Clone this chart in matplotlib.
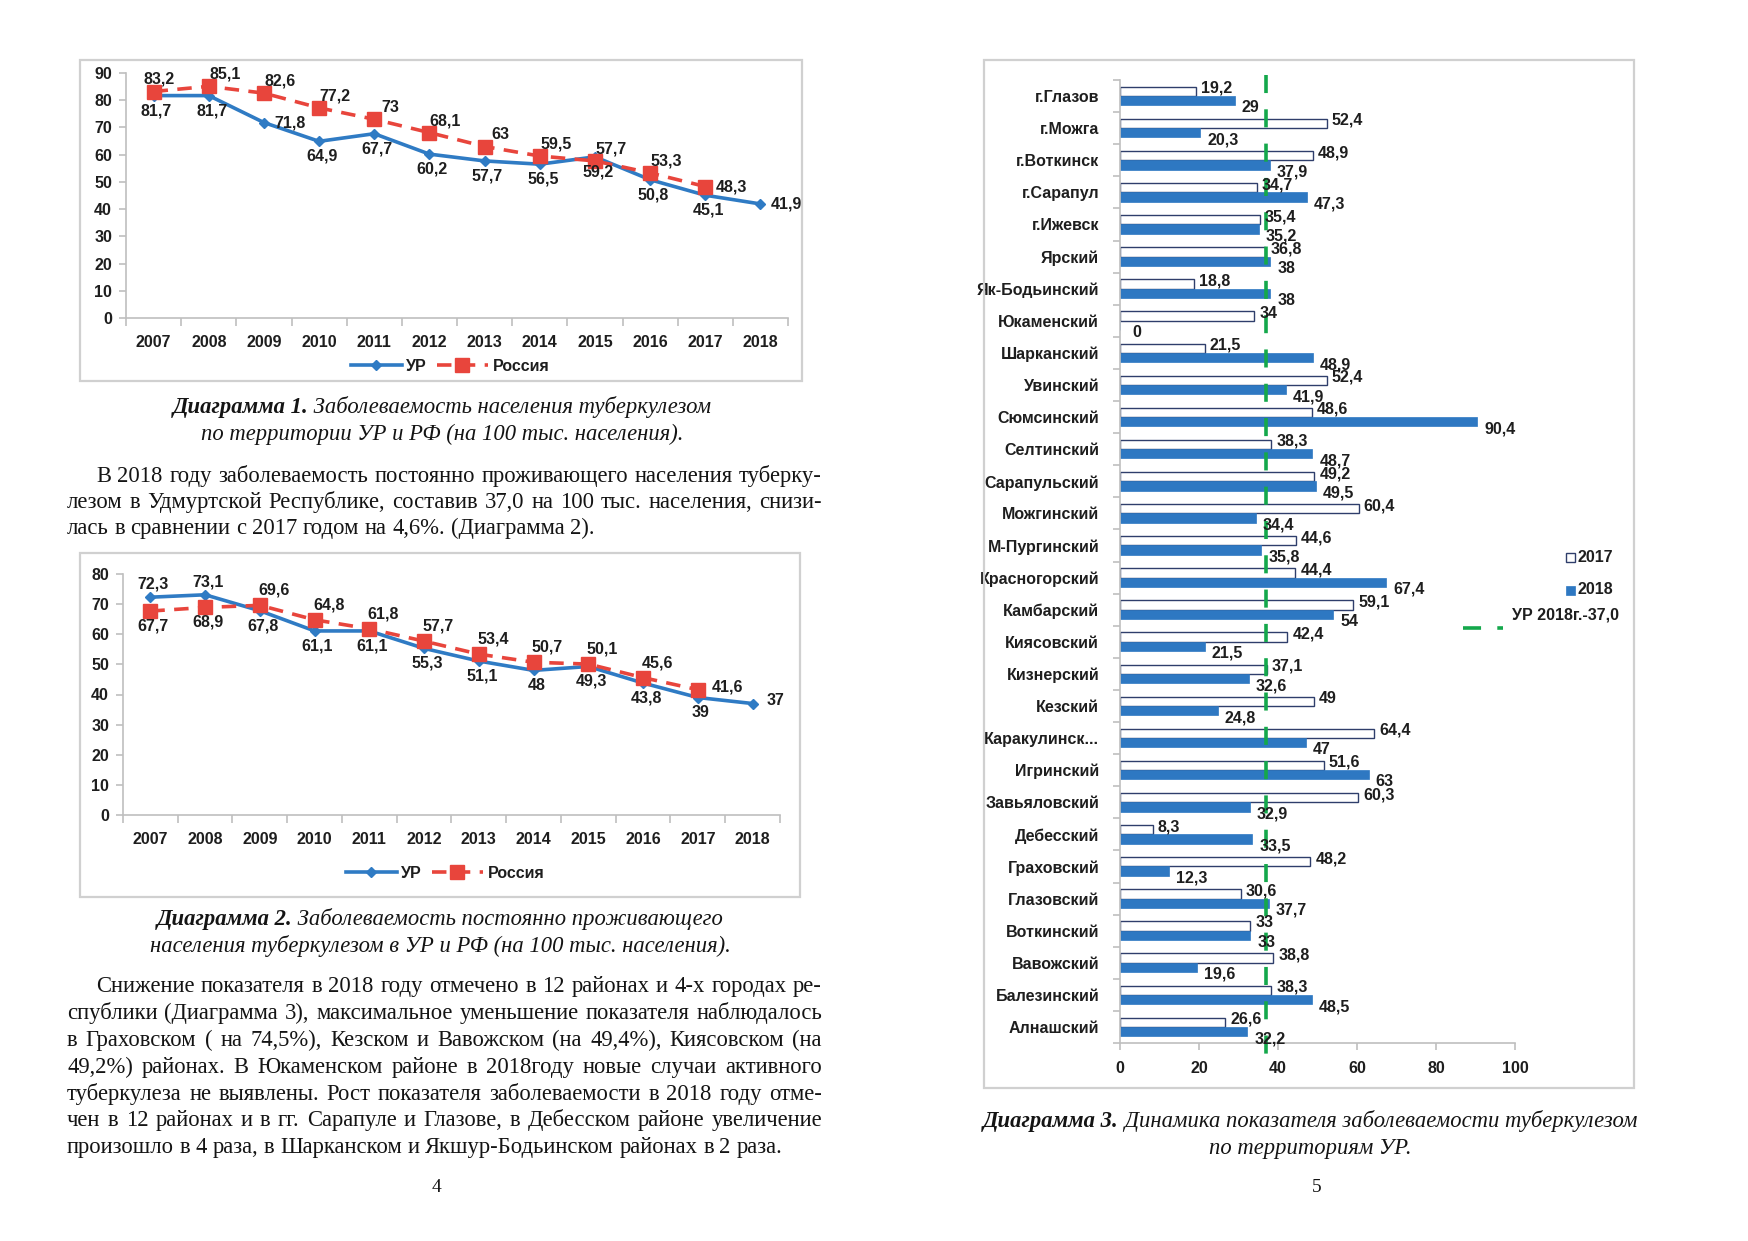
import matplotlib
matplotlib.use('Agg')
import matplotlib.pyplot as plt
from matplotlib import font_manager as fm
from matplotlib.patches import Rectangle
from matplotlib.lines import Line2D
import numpy as np

# ---------------- data ----------------
years = ['2007', '2008', '2009', '2010', '2011', '2012', '2013', '2014', '2015', '2016', '2017', '2018']

ur_1 = [81.7, 81.7, 71.8, 64.9, 67.7, 60.2, 57.7, 56.5, 59.2, 50.8, 45.1, 41.9]
ru_1 = [83.2, 85.1, 82.6, 77.2, 73.0, 68.1, 63.0, 59.5, 57.7, 53.3, 48.3]

ur_2 = [72.3, 73.1, 67.8, 61.1, 61.1, 55.3, 51.1, 48.0, 49.3, 43.8, 39.0, 37.0]
ru_2 = [67.7, 68.9, 69.6, 64.8, 61.8, 57.7, 53.4, 50.7, 50.1, 45.6, 41.6]

districts = ['г.Глазов', 'г.Можга', 'г.Воткинск', 'г.Сарапул', 'г.Ижевск', 'Ярский',
             'Як-Бодьинский', 'Юкаменский', 'Шарканский', 'Увинский', 'Сюмсинский',
             'Селтинский', 'Сарапульский', 'Можгинский', 'М-Пургинский', 'Красногорский',
             'Камбарский', 'Киясовский', 'Кизнерский', 'Кезский', 'Каракулинск...',
             'Игринский', 'Завьяловский', 'Дебесский', 'Граховский', 'Глазовский',
             'Воткинский', 'Вавожский', 'Балезинский', 'Алнашский']
val_2017 = [19.2, 52.4, 48.9, 34.7, 35.4, 36.8, 18.8, 34.0, 21.5, 52.4, 48.6,
            38.3, 49.2, 60.4, 44.6, 44.4, 59.1, 42.4, 37.1, 49.0, 64.4,
            51.6, 60.3, 8.3, 48.2, 30.6, 33.0, 38.8, 38.3, 26.6]
val_2018 = [29.0, 20.3, 37.9, 47.3, 35.2, 38.0, 38.0, 0.0, 48.9, 41.9, 90.4,
            48.7, 49.5, 34.4, 35.8, 67.4, 54.0, 21.5, 32.6, 24.8, 47.0,
            63.0, 32.9, 33.5, 12.3, 37.7, 33.0, 19.6, 48.5, 32.2]
ur_2018_avg = 37.0

series_names = ['УР', 'Россия']
bar_names = ['2017', '2018']
avg_name = 'УР 2018г.-37,0'

# label placement codes (style only): b=below, a=above, ar=above-right, r=right
ur_1_pos = ['b', 'b', 'r', 'b', 'b', 'b', 'b', 'b', 'b', 'b', 'b', 'r']
ru_1_pos = ['a', 'ar', 'ar', 'ar', 'ar', 'ar', 'ar', 'ar', 'ar', 'ar', 'r']
ur_2_pos = ['a', 'a', 'b', 'b', 'b', 'b', 'b', 'b', 'b', 'b', 'b', 'r']
ru_2_pos = ['b', 'b', 'ar', 'ar', 'ar', 'ar', 'ar', 'ar', 'ar', 'ar', 'r']

# ---------------- fonts ----------------
installed = {f.name for f in fm.fontManager.ttflist}
NARROW = 'Liberation Sans Narrow' if 'Liberation Sans Narrow' in installed else 'Liberation Sans'
SERIF = 'Liberation Serif'

W, H = 1749, 1241
DPI = 100
fig = plt.figure(figsize=(W / DPI, H / DPI), dpi=DPI)
fig.patch.set_facecolor('white')

BLUE = '#2F7BC4'
RED = '#E8453C'
NAVY = '#2F3E6B'
BAR18 = '#2E78C2'
GREEN = '#14A84B'
AXC = '#BFBFBF'
TXT = '#1E1E1E'

def fx(x):
    return x / W

def fy(y):
    return 1 - y / H

def frame(x0, y0, x1, y1):
    fig.patches.append(Rectangle((fx(x0), fy(y1)), fx(x1) - fx(x0), fy(y0) - fy(y1),
                                 transform=fig.transFigure, fill=False,
                                 edgecolor='#D0D0D0', lw=1.6))

def fmt(v):
    return ('%g' % v).replace('.', ',')

chart_font = dict(family=NARROW, weight='bold', size=11.5)

def line_chart(rect, ur, ru, ymax, ur_pos, ru_pos, legend_xy, offs):
    ax = fig.add_axes(rect)
    x = np.arange(len(years))
    ax.plot(x[:len(ur)], ur, color=BLUE, lw=2.6, marker='D', ms=5.5, zorder=3,
            label=series_names[0])
    ax.plot(x[:len(ru)], ru, color=RED, lw=2.6, ls=(0, (4, 2.6)), marker='s', ms=10,
            zorder=4, label=series_names[1])
    ax.set_xlim(-0.5, len(years) - 0.5)
    ax.set_ylim(0, ymax)
    ax.set_yticks(np.arange(0, ymax + 1, 10))
    ax.set_xticks(x)
    ax.set_xticklabels(years)
    ax.set_xticks(np.arange(-0.5, len(years)), minor=True)
    for s in ['top', 'right']:
        ax.spines[s].set_visible(False)
    for s in ['left', 'bottom']:
        ax.spines[s].set_color(AXC)
        ax.spines[s].set_linewidth(1.2)
    ax.tick_params(axis='x', which='major', length=0, pad=12)
    ax.tick_params(axis='x', which='minor', length=6, color=AXC, width=1.2, direction='out')
    ax.tick_params(axis='y', length=5, color=AXC, width=1.2, pad=5)
    for lab in ax.get_xticklabels() + ax.get_yticklabels():
        lab.set_fontfamily(NARROW)
        lab.set_fontweight('bold')
        lab.set_fontsize(11.5)
        lab.set_color(TXT)
    ax.patch.set_alpha(0)

    def put(xi, v, code):
        dx, dy, ha = offs[code]
        ax.annotate(fmt(v), (xi, v), xytext=(dx, dy), textcoords='offset pixels',
                    ha=ha, va='center', color=TXT, zorder=6, **chart_font)
    for i, v in enumerate(ur):
        put(i, v, ur_pos[i])
    for i, v in enumerate(ru):
        put(i, v, ru_pos[i])

    leg = fig.legend(handles=ax.get_lines(), labels=series_names, ncol=2,
                     loc='center', bbox_to_anchor=(fx(legend_xy[0]), fy(legend_xy[1])),
                     frameon=False, handlelength=3.2, columnspacing=0.6,
                     handletextpad=0.3, prop=dict(family=NARROW, weight='bold', size=11.5))
    for t in leg.get_texts():
        t.set_color(TXT)
    return ax

offs1 = {'b': (3, -15, 'center'), 'a': (6, 13, 'center'), 'ar': (16, 12, 'center'),
         'r': (10, 0, 'left')}
offs2 = {'b': (3, -15, 'center'), 'a': (3, 13, 'center'), 'ar': (14, 15, 'center'),
         'r': (14, 3, 'left')}

# ---- Chart 1 ----
frame(80, 60, 802, 381)
line_chart([fx(126), fy(318), fx(788) - fx(126), fy(73) - fy(318)], ur_1, ru_1, 90,
           ur_1_pos, ru_1_pos, (450, 366), offs1)

# ---- Chart 2 ----
frame(80, 553, 800, 897)
line_chart([fx(123), fy(815), fx(780) - fx(123), fy(574) - fy(815)], ur_2, ru_2, 80,
           ur_2_pos, ru_2_pos, (445, 873), offs2)

# ---- Chart 3 ----
frame(984, 60, 1634, 1088)
ax3 = fig.add_axes([fx(1120), fy(1043), fx(1515) - fx(1120), fy(80) - fy(1043)])
n = len(districts)
yy = np.arange(n)
bh = 0.29
ax3.barh(yy - bh / 2, val_2017, height=bh, color='white', edgecolor=NAVY, lw=1.0, zorder=2)
ax3.barh(yy + bh / 2, val_2018, height=bh, color=BAR18, edgecolor=BAR18, lw=0.5, zorder=2)
ax3.plot([ur_2018_avg, ur_2018_avg], [-0.65, n - 0.5 + 0.7], color=GREEN, lw=2.6,
         ls=(0, (5, 4.5)), clip_on=False, zorder=3)
ax3.set_ylim(n - 0.5, -0.5)
ax3.set_xlim(0, 100)
ax3.set_xticks(np.arange(0, 101, 20))
ax3.set_yticks(yy)
ax3.set_yticklabels(districts)
ax3.set_yticks(np.arange(-0.5, n), minor=True)
for s in ['top', 'right']:
    ax3.spines[s].set_visible(False)
for s in ['left', 'bottom']:
    ax3.spines[s].set_color(AXC)
    ax3.spines[s].set_linewidth(1.2)
ax3.tick_params(axis='y', which='major', length=0, pad=15)
ax3.tick_params(axis='y', which='minor', length=5, color=AXC, width=1.2)
ax3.tick_params(axis='x', length=5, color=AXC, width=1.2, pad=8)
for lab in ax3.get_xticklabels() + ax3.get_yticklabels():
    lab.set_fontfamily(NARROW)
    lab.set_fontweight('bold')
    lab.set_fontsize(11.5)
    lab.set_color(TXT)
ax3.patch.set_alpha(0)
for i in range(n):
    ax3.annotate(fmt(val_2017[i]), (val_2017[i], i - bh / 2), xytext=(5, 3),
                 textcoords='offset pixels', ha='left', va='center', color=TXT, **chart_font)
    ax3.annotate(fmt(val_2018[i]), (val_2018[i], i + bh / 2), xytext=(7 if val_2018[i] > 0 else 12, -7),
                 textcoords='offset pixels', ha='left', va='center', color=TXT, **chart_font)

# legend for chart 3
fig.patches.append(Rectangle((fx(1566), fy(562)), fx(9), 9 / H, transform=fig.transFigure,
                             facecolor='white', edgecolor=NAVY, lw=1.0))
fig.patches.append(Rectangle((fx(1566), fy(595)), fx(9), 9 / H, transform=fig.transFigure,
                             facecolor=BAR18, edgecolor=BAR18, lw=0.5))
fig.text(fx(1578), fy(557), bar_names[0], ha='left', va='center', color=TXT, **chart_font)
fig.text(fx(1578), fy(590), bar_names[1], ha='left', va='center', color=TXT, **chart_font)
fig.lines.append(Line2D([fx(1463), fx(1503)], [fy(628), fy(628)], transform=fig.transFigure,
                        color=GREEN, lw=2.6, ls=(0, (5, 4.5))))
fig.text(fx(1512), fy(615), avg_name, ha='left', va='center', color=TXT, **chart_font)

# ---------------- page text ----------------
renderer = fig.canvas.get_renderer()

def fp_make(size, style='normal', weight='normal'):
    return fm.FontProperties(family=SERIF, size=size, style=style, weight=weight)

def text_width(s, fp):
    t = fig.text(0, 0, s, fontproperties=fp)
    w = t.get_window_extent(renderer=renderer).width
    t.remove()
    return w

def put_line(s, x0, x1, yb, fp, justify=True):
    words = s.split(' ')
    widths = [text_width(w, fp) for w in words]
    space = text_width('a a', fp) - text_width('aa', fp)
    if justify and len(words) > 1:
        gap = (x1 - x0 - sum(widths)) / (len(words) - 1)
    else:
        gap = space
    x = x0
    for w, wd in zip(words, widths):
        fig.text(fx(x), fy(yb), w, fontproperties=fp, ha='left', va='baseline', color='#141414')
        x += wd + gap

def caption(parts, cx, yb):
    total = sum(text_width(s, fp) for s, fp in parts)
    x = cx - total / 2
    for s, fp in parts:
        fig.text(fx(x), fy(yb), s, fontproperties=fp, ha='left', va='baseline', color='#141414')
        x += text_width(s, fp)

CAP = 16.3
fb = fp_make(CAP, 'italic', 'bold')
fi = fp_make(CAP, 'italic')
caption([('Диаграмма 1.', fb), (' Заболеваемость населения туберкулезом', fi)], 442, 413)
caption([('по территории УР и РФ (на 100 тыс. населения).', fi)], 442, 440)
caption([('Диаграмма 2.', fb), (' Заболеваемость постоянно проживающего', fi)], 440, 925)
caption([('населения туберкулезом в УР и РФ (на 100 тыс. населения).', fi)], 440, 952)
caption([('Диаграмма 3.', fb), (' Динамика показателя заболеваемости туберкулезом', fi)], 1310, 1127)
caption([('по территориям УР.', fi)], 1310, 1154)

p1 = ['В 2018 году заболеваемость постоянно проживающего населения туберку-',
      'лезом в Удмуртской Республике, составив 37,0 на 100 тыс. населения, снизи-',
      'лась в сравнении с 2017 годом на 4,6%. (Диаграмма 2).']
p1_base = [482, 508, 534]
p2 = ['Снижение показателя в 2018 году отмечено в 12 районах и 4-х городах ре-',
      'спублики (Диаграмма 3), максимальное уменьшение показателя наблюдалось',
      'в Граховском ( на 74,5%), Кезском и Вавожском (на 49,4%), Киясовском (на',
      '49,2%) районах. В Юкаменском районе в 2018году новые случаи активного',
      'туберкулеза не выявлены. Рост показателя заболеваемости в 2018 году отме-',
      'чен в 12 районах и в гг. Сарапуле и Глазове, в Дебесском районе увеличение',
      'произошло в 4 раза, в Шарканском и Якшур-Бодьинском районах в 2 раза.']
p2_base = [992, 1019, 1046, 1073, 1100, 1126, 1153]

LEFT, INDENT, RIGHT = 67, 96, 822

# choose the largest body size (up to 18pt) at which every line fits with normal spaces
size = 18.0
while size > 12:
    fr = fp_make(size)
    ok = True
    for i, s in enumerate(p1):
        if text_width(s, fr) > RIGHT - (INDENT if i == 0 else LEFT) - 4:
            ok = False
    for i, s in enumerate(p2):
        if text_width(s, fr) > RIGHT - (INDENT if i == 0 else LEFT) - 4:
            ok = False
    if ok:
        break
    size -= 0.25
fr = fp_make(size)

for i, s in enumerate(p1):
    put_line(s, INDENT if i == 0 else LEFT, RIGHT, p1_base[i], fr, justify=(i < len(p1) - 1))
for i, s in enumerate(p2):
    put_line(s, INDENT if i == 0 else LEFT, RIGHT, p2_base[i], fr, justify=(i < len(p2) - 1))

fpn = fp_make(14)
fig.text(fx(437), fy(1192), '4', fontproperties=fpn, ha='center', va='baseline', color='#141414')
fig.text(fx(1317), fy(1192), '5', fontproperties=fpn, ha='center', va='baseline', color='#141414')

fig.savefig('out.png', dpi=DPI, facecolor='white')
